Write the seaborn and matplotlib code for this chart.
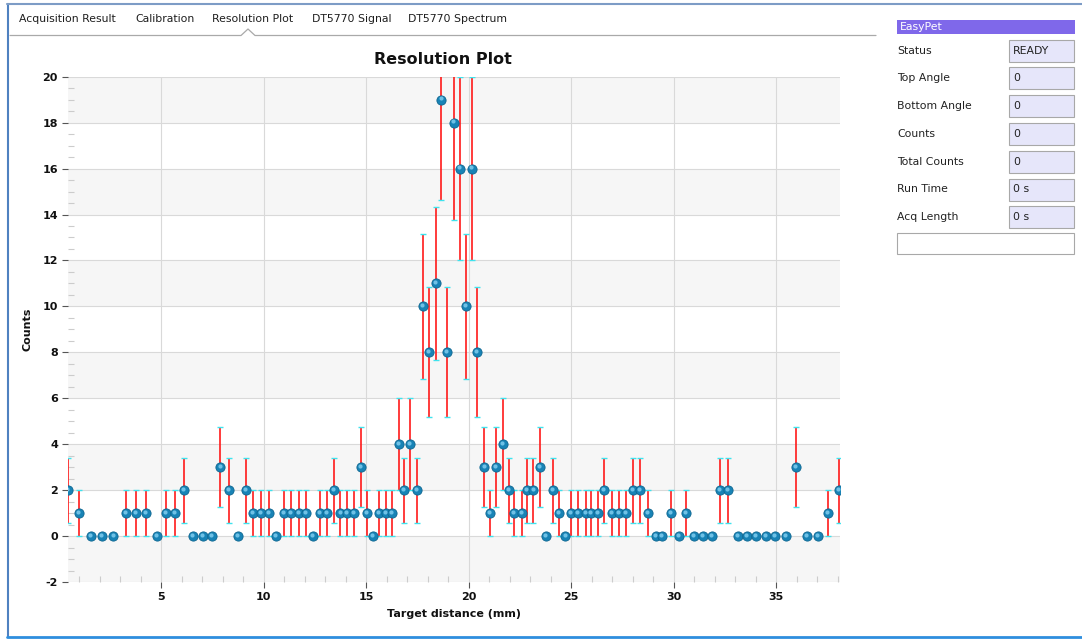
import numpy as np
import matplotlib
matplotlib.use('Agg')
import matplotlib.pyplot as plt
from matplotlib.patches import Rectangle
from matplotlib.ticker import MultipleLocator
from matplotlib.transforms import offset_copy
import seaborn as sns

# target distance (mm) of each bin
distance = [0.46, 0.99, 1.56, 2.11, 2.66, 3.26, 3.77, 4.25, 4.78, 5.23,
            5.67, 6.12, 6.56, 7.02, 7.47, 7.88, 8.29, 8.73, 9.12, 9.46,
            9.85, 10.25, 10.60, 10.99, 11.33, 11.72, 12.06, 12.41, 12.74, 13.08,
            13.42, 13.74, 14.04, 14.38, 14.72, 15.02, 15.31, 15.62, 15.95, 16.24,
            16.58, 16.85, 17.13, 17.47, 17.75, 18.04, 18.39, 18.66, 18.95, 19.28,
            19.57, 19.86, 20.16, 20.41, 20.76, 21.05, 21.33, 21.65, 21.96, 22.22,
            22.58, 22.82, 23.15, 23.47, 23.75, 24.09, 24.39, 24.71, 24.99, 25.34,
            25.70, 25.95, 26.29, 26.61, 26.97, 27.31, 27.65, 27.99, 28.35, 28.73,
            29.12, 29.44, 29.85, 30.25, 30.60, 31.00, 31.44, 31.85, 32.25, 32.66,
            33.12, 33.57, 34.02, 34.48, 34.94, 35.46, 35.96, 36.48, 37.02, 37.54,
            38.07]
counts = [2, 1, 0, 0, 0, 1, 1, 1, 0, 1,
          1, 2, 0, 0, 0, 3, 2, 0, 2, 1,
          1, 1, 0, 1, 1, 1, 1, 0, 1, 1,
          2, 1, 1, 1, 3, 1, 0, 1, 1, 1,
          4, 2, 4, 2, 10, 8, 11, 19, 8, 18,
          16, 10, 16, 8, 3, 1, 3, 4, 2, 1,
          1, 2, 2, 3, 0, 2, 1, 0, 1, 1,
          1, 1, 1, 2, 1, 1, 1, 2, 2, 1,
          0, 0, 1, 0, 1, 0, 0, 0, 2, 2,
          0, 0, 0, 0, 0, 0, 3, 0, 0, 1,
          2]

tabs = ["Acquisition Result", "Calibration", "Resolution Plot", "DT5770 Signal", "DT5770 Spectrum"]
status_labels = ["Status", "Top Angle", "Bottom Angle", "Counts", "Total Counts", "Run Time", "Acq Length"]
status_values = ["READY", "0", "0", "0", "0", "0 s", "0 s"]

sns.set_theme(style="white")
plt.rcParams['font.family'] = ['DejaVu Sans']
plt.rcParams['axes.unicode_minus'] = False

W, H = 1082, 639
fig = plt.figure(figsize=(W / 100, H / 100), dpi=100)
fig.patch.set_facecolor('white')

# window chrome drawn in pixel coordinates
bg = fig.add_axes([0, 0, 1, 1], zorder=0)
bg.set_xlim(0, W)
bg.set_ylim(H, 0)
bg.axis('off')
bg.plot([7.5, 7.5], [4, 637], color='#4f81c0', lw=1.5)
bg.plot([7, W], [4, 4], color='#7d9cc6', lw=1.5)
bg.plot([7, W], [637, 637], color='#2e8ede', lw=2)

# tab bar
tab_x = [19, 135, 212, 312, 408]
for name, tx in zip(tabs, tab_x):
    bg.text(tx, 19, name, fontsize=7.8, color='#1e1e1e', va='center', ha='left')
bg.plot([10, 241, 248, 255, 876], [35.5, 35.5, 29, 35.5, 35.5], color='#a9a9a9', lw=0.9)

# side panel
bg.add_patch(Rectangle((897, 20), 178, 14, facecolor='#7f68ea', edgecolor='none'))
bg.text(900, 27, "EasyPet", fontsize=7.8, color='white', va='center')
for i, (lab, val) in enumerate(zip(status_labels, status_values)):
    yc = 50.5 + i * 27.8
    bg.text(897, yc, lab, fontsize=7.8, color='#222222', va='center')
    bg.add_patch(Rectangle((1009, yc - 11), 65, 22, facecolor='#e6e6fa',
                           edgecolor='#a8a8a8', lw=0.8))
    bg.text(1013, yc, val, fontsize=7.8, color='#222222', va='center')
bg.add_patch(Rectangle((897, 233), 177, 21, facecolor='white', edgecolor='#a8a8a8', lw=0.8))

# main plot
ax = fig.add_axes([68.3 / W, 1 - 582 / H, (840 - 68.3) / W, (582 - 76.7) / H], zorder=1)
ax.set_facecolor('white')
for lo in range(-2, 20, 4):
    ax.axhspan(lo, lo + 2, color='#f6f6f6', lw=0, zorder=0)
ax.grid(True, which='major', color='#d9d9d9', lw=0.8)
ax.set_axisbelow(True)

eb = ax.errorbar(distance, counts, yerr=np.sqrt(counts), fmt='none', ecolor='#ff1a1a',
                 elinewidth=1.2, capsize=2.2, capthick=1.0, zorder=2)
for cap in eb[1]:
    cap.set_color('#3fe3ee')
    cap.set_markeredgecolor('#3fe3ee')
    cap.set_markerfacecolor('#3fe3ee')
sns.scatterplot(x=distance, y=counts, ax=ax, s=44, color='#1883b6', edgecolor='#0d6690',
                linewidth=0.6, zorder=3, legend=False)
# small glossy highlight on each ball
shine = offset_copy(ax.transData, fig=fig, x=-0.6, y=1.0, units='points')
ax.scatter(distance, counts, s=9, color='#7fcdef', alpha=0.85, lw=0, zorder=4, transform=shine)

ax.set_xlim(0.46, 38.11)
ax.set_ylim(-2, 20)
ax.xaxis.set_major_locator(MultipleLocator(5))
ax.xaxis.set_minor_locator(MultipleLocator(1))
ax.yaxis.set_major_locator(MultipleLocator(2))
ax.yaxis.set_minor_locator(MultipleLocator(0.5))
ax.tick_params(which='both', bottom=True, left=True)
ax.tick_params(which='major', direction='out', length=4.5, width=0.8, color='#555555',
               labelsize=8, pad=3, labelcolor='#111111')
ax.tick_params(which='minor', direction='in', length=4.5, width=0.8, color='#cccccc')
plt.setp(ax.get_xticklabels() + ax.get_yticklabels(), fontweight='bold')
for s in ax.spines.values():
    s.set_visible(False)

ax.set_xlabel('Target distance (mm)', fontsize=8, fontweight='bold', color='#111111')
ax.set_ylabel('Counts', fontsize=8, fontweight='bold', color='#111111')
ax.xaxis.set_label_coords(0.5, -0.053)
ax.yaxis.set_label_coords(-0.047, 0.5)
fig.text(443 / W, 1 - 59 / H, 'Resolution Plot', ha='center', va='center',
         fontsize=11.5, fontweight='bold', color='#111111')

fig.savefig('out.png', dpi=100)
